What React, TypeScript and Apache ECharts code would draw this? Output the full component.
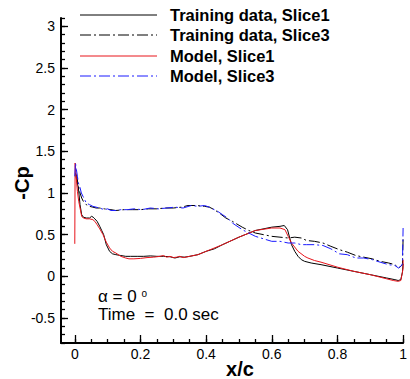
import React, { useEffect, useRef } from "react";
import * as echarts from "echarts";

// ---- Data ----
const trainS1X = [0.002, 0.006, 0.011, 0.016, 0.021, 0.026, 0.035, 0.045, 0.051, 0.056, 0.061, 0.068, 0.076, 0.082, 0.088, 0.096, 0.106, 0.115, 0.125, 0.14, 0.155, 0.17, 0.19, 0.21, 0.23, 0.25, 0.27, 0.29, 0.305, 0.32, 0.335, 0.35, 0.375, 0.4, 0.425, 0.45, 0.5, 0.55, 0.6, 0.625, 0.638, 0.648, 0.66, 0.67, 0.68, 0.69, 0.7, 0.72, 0.75, 0.8, 0.85, 0.9, 0.95, 0.975, 0.985, 0.993, 0.998, 1.0];
const trainS1Y = [1.24, 1.15, 1.06, 0.86, 0.74, 0.71, 0.7, 0.7, 0.72, 0.71, 0.69, 0.66, 0.6, 0.55, 0.5, 0.38, 0.3, 0.27, 0.26, 0.25, 0.24, 0.24, 0.24, 0.24, 0.245, 0.24, 0.24, 0.235, 0.22, 0.235, 0.23, 0.24, 0.26, 0.3, 0.33, 0.38, 0.47, 0.55, 0.59, 0.6, 0.61, 0.56, 0.38, 0.3, 0.24, 0.2, 0.18, 0.16, 0.14, 0.1, 0.06, 0.02, -0.02, -0.04, -0.05, -0.04, 0.05, 0.15];

const trainS3X = [0.002, 0.006, 0.011, 0.016, 0.021, 0.026, 0.035, 0.045, 0.055, 0.065, 0.075, 0.09, 0.11, 0.125, 0.15, 0.175, 0.2, 0.225, 0.25, 0.275, 0.3, 0.325, 0.345, 0.37, 0.395, 0.41, 0.425, 0.44, 0.46, 0.48, 0.51, 0.53, 0.55, 0.575, 0.6, 0.625, 0.65, 0.67, 0.69, 0.706, 0.73, 0.756, 0.78, 0.806, 0.83, 0.856, 0.88, 0.906, 0.93, 0.956, 0.975, 0.986, 0.993, 0.998, 1.0];
const trainS3Y = [1.24, 1.2, 1.08, 1.0, 0.94, 0.9, 0.86, 0.84, 0.83, 0.82, 0.82, 0.81, 0.8, 0.79, 0.8, 0.8, 0.8, 0.81, 0.81, 0.82, 0.82, 0.83, 0.85, 0.85, 0.84, 0.83, 0.8, 0.76, 0.7, 0.66, 0.59, 0.55, 0.52, 0.5, 0.48, 0.47, 0.46, 0.47, 0.46, 0.43, 0.42, 0.4, 0.36, 0.32, 0.29, 0.25, 0.23, 0.21, 0.18, 0.16, 0.14, 0.1, 0.12, 0.14, 0.45];

const modelS1X = [0.0, 0.001, 0.004, 0.008, 0.012, 0.016, 0.021, 0.026, 0.035, 0.045, 0.055, 0.061, 0.068, 0.076, 0.086, 0.096, 0.106, 0.115, 0.125, 0.14, 0.155, 0.165, 0.18, 0.2, 0.22, 0.24, 0.25, 0.26, 0.27, 0.28, 0.29, 0.3, 0.31, 0.32, 0.33, 0.35, 0.375, 0.4, 0.45, 0.5, 0.55, 0.6, 0.625, 0.64, 0.65, 0.66, 0.68, 0.7, 0.71, 0.73, 0.75, 0.8, 0.85, 0.9, 0.95, 0.97, 0.985, 0.993, 0.998, 1.0, 1.0];
const modelS1Y = [0.39, 1.36, 1.2, 1.02, 0.9, 0.82, 0.72, 0.7, 0.69, 0.69, 0.68, 0.66, 0.62, 0.57, 0.5, 0.41, 0.34, 0.3, 0.28, 0.24, 0.22, 0.21, 0.21, 0.215, 0.225, 0.23, 0.235, 0.24, 0.25, 0.23, 0.24, 0.225, 0.23, 0.24, 0.225, 0.24, 0.26, 0.3, 0.38, 0.47, 0.55, 0.58, 0.58, 0.56, 0.48, 0.4, 0.3, 0.24, 0.22, 0.19, 0.17, 0.11, 0.06, 0.02, -0.03, -0.05, -0.06, -0.05, 0.05, 0.1, 0.2];

const modelS3X = [0.0, 0.002, 0.005, 0.008, 0.011, 0.015, 0.02, 0.025, 0.03, 0.035, 0.045, 0.055, 0.065, 0.075, 0.09, 0.1, 0.11, 0.125, 0.14, 0.16, 0.18, 0.205, 0.23, 0.255, 0.28, 0.305, 0.33, 0.355, 0.375, 0.395, 0.41, 0.425, 0.435, 0.45, 0.465, 0.48, 0.51, 0.53, 0.55, 0.575, 0.6, 0.625, 0.65, 0.67, 0.69, 0.706, 0.73, 0.756, 0.78, 0.806, 0.83, 0.856, 0.88, 0.906, 0.93, 0.956, 0.975, 0.986, 0.993, 0.998, 1.0];
const modelS3Y = [1.2, 1.36, 1.28, 1.2, 1.12, 1.08, 1.0, 0.96, 0.92, 0.88, 0.86, 0.84, 0.83, 0.82, 0.8, 0.81, 0.79, 0.79, 0.8, 0.8, 0.81, 0.8, 0.82, 0.81, 0.82, 0.83, 0.82, 0.85, 0.84, 0.85, 0.83, 0.8, 0.78, 0.74, 0.7, 0.64, 0.56, 0.52, 0.48, 0.45, 0.42, 0.42, 0.4, 0.4, 0.38, 0.38, 0.38, 0.37, 0.33, 0.27, 0.26, 0.22, 0.22, 0.2, 0.17, 0.14, 0.13, 0.1, 0.12, 0.15, 0.58];

const xTickValues = [0, 0.2, 0.4, 0.6, 0.8, 1];
const yTickValues = [-0.5, 0, 0.5, 1, 1.5, 2, 2.5, 3];
const legendNames = ["Training data, Slice1", "Training data, Slice3", "Model, Slice1", "Model, Slice3"];
const annotationAngle = "α = 0 ";
const annotationDegree = "o";
const annotationTime = "Time  =  0.0 sec";

const X_MIN = -0.042;
const X_MAX = 1.0;
const Y_MIN = -0.8;
const Y_MAX = 3.1;

const xMinorTicks = Array.from({ length: 21 }, (_, i) => Math.round(i * 5) / 100);
const yMinorTicks = Array.from({ length: 40 }, (_, i) => Math.round(i - 8) / 10);

const pairs = (xs: number[], ys: number[]) => xs.map((x, i) => [x, ys[i]]);

const FONT = "'Liberation Sans', Arial, Helvetica, sans-serif";
const DASHDOT = [11, 3, 2, 3];

const colors = ["#000000", "#000000", "#e8141b", "#1a1aff"];
const dashes: any[] = ["solid", DASHDOT, "solid", DASHDOT];

export default function App() {
  const ref = useRef<HTMLDivElement>(null);

  useEffect(() => {
    if (!ref.current) return;
    const chart = echarts.init(ref.current, undefined, { renderer: "svg" });

    const dataSets = [
      pairs(trainS1X, trainS1Y),
      pairs(trainS3X, trainS3Y),
      pairs(modelS1X, modelS1Y),
      pairs(modelS3X, modelS3Y),
    ];

    const legendGraphics: any[] = [];
    const legendYs = [15, 35, 56, 76];
    legendNames.forEach((name, i) => {
      legendGraphics.push({
        type: "line",
        shape: { x1: 80, y1: legendYs[i], x2: 157, y2: legendYs[i] },
        style: {
          stroke: colors[i],
          lineWidth: 1,
          lineDash: Array.isArray(dashes[i]) ? dashes[i] : null,
        },
      });
      legendGraphics.push({
        type: "text",
        x: 170,
        y: legendYs[i],
        style: {
          text: name,
          fill: "#000",
          font: `bold 16.5px ${FONT}`,
          verticalAlign: "middle",
          align: "left",
        },
      });
    });

    const tickLine = { color: "#000", width: 1.3 };

    chart.setOption({
      animation: false,
      backgroundColor: "#ffffff",
      textStyle: { fontFamily: FONT },
      grid: { left: 61, right: 2, top: 18, bottom: 36, containLabel: false },
      xAxis: [
        {
          type: "value",
          min: X_MIN,
          max: X_MAX,
          position: "bottom",
          axisLine: { show: true, onZero: false, lineStyle: { color: "#000", width: 2 } },
          axisTick: { show: true, inside: true, length: 8, customValues: xTickValues, lineStyle: tickLine },
          axisLabel: {
            show: true,
            customValues: xTickValues,
            color: "#000",
            fontSize: 14,
            fontFamily: FONT,
            margin: 4,
            formatter: (v: number) => String(v),
          },
          splitLine: { show: false },
        },
        {
          type: "value",
          min: X_MIN,
          max: X_MAX,
          position: "bottom",
          offset: 0,
          axisLine: { show: false, onZero: false },
          axisTick: { show: true, inside: true, length: 4, customValues: xMinorTicks, lineStyle: tickLine },
          axisLabel: { show: false },
          splitLine: { show: false },
        },
      ],
      yAxis: [
        {
          type: "value",
          min: Y_MIN,
          max: Y_MAX,
          position: "left",
          axisLine: { show: true, onZero: false, lineStyle: { color: "#000", width: 2 } },
          axisTick: { show: true, inside: true, length: 7, customValues: yTickValues, lineStyle: tickLine },
          axisLabel: {
            show: true,
            customValues: yTickValues,
            color: "#000",
            fontSize: 14,
            fontFamily: FONT,
            margin: 6,
            formatter: (v: number) => String(v),
          },
          splitLine: { show: false },
        },
        {
          type: "value",
          min: Y_MIN,
          max: Y_MAX,
          position: "left",
          offset: 0,
          axisLine: { show: false, onZero: false },
          axisTick: { show: true, inside: true, length: 4, customValues: yMinorTicks, lineStyle: tickLine },
          axisLabel: { show: false },
          splitLine: { show: false },
        },
      ],
      series: dataSets.map((d, i) => ({
        name: legendNames[i],
        type: "line",
        data: d,
        xAxisIndex: 0,
        yAxisIndex: 0,
        showSymbol: false,
        symbol: "none",
        smooth: false,
        lineStyle: { color: colors[i], width: 1, type: dashes[i] },
        z: 2 + i,
      })),
      graphic: [
        ...legendGraphics,
        {
          type: "text",
          x: 98,
          y: 296,
          style: {
            text: `${annotationAngle}{sup|${annotationDegree}}`,
            fill: "#000",
            font: `17px ${FONT}`,
            lineHeight: 15,
            verticalAlign: "middle",
            rich: {
              sup: { fontSize: 10, fontFamily: FONT, fill: "#000", lineHeight: 15, verticalAlign: "top" },
            },
          },
        },
        {
          type: "text",
          x: 98,
          y: 314,
          style: { text: annotationTime, fill: "#000", font: `17px ${FONT}`, lineHeight: 15, verticalAlign: "middle" },
        },
        {
          type: "text",
          x: 22,
          y: 183,
          rotation: Math.PI / 2,
          style: { text: "-Cp", fill: "#000", font: `bold 20px ${FONT}`, align: "center", verticalAlign: "middle" },
        },
        {
          type: "text",
          x: 240,
          y: 369,
          style: { text: "x/c", fill: "#000", font: `bold 20px ${FONT}`, align: "center", verticalAlign: "middle" },
        },
      ],
    });

    return () => chart.dispose();
  }, []);

  return (
    <div
      ref={ref}
      style={{ position: "fixed", left: 0, top: 0, width: 410, height: 379, background: "#fff" }}
    />
  );
}
